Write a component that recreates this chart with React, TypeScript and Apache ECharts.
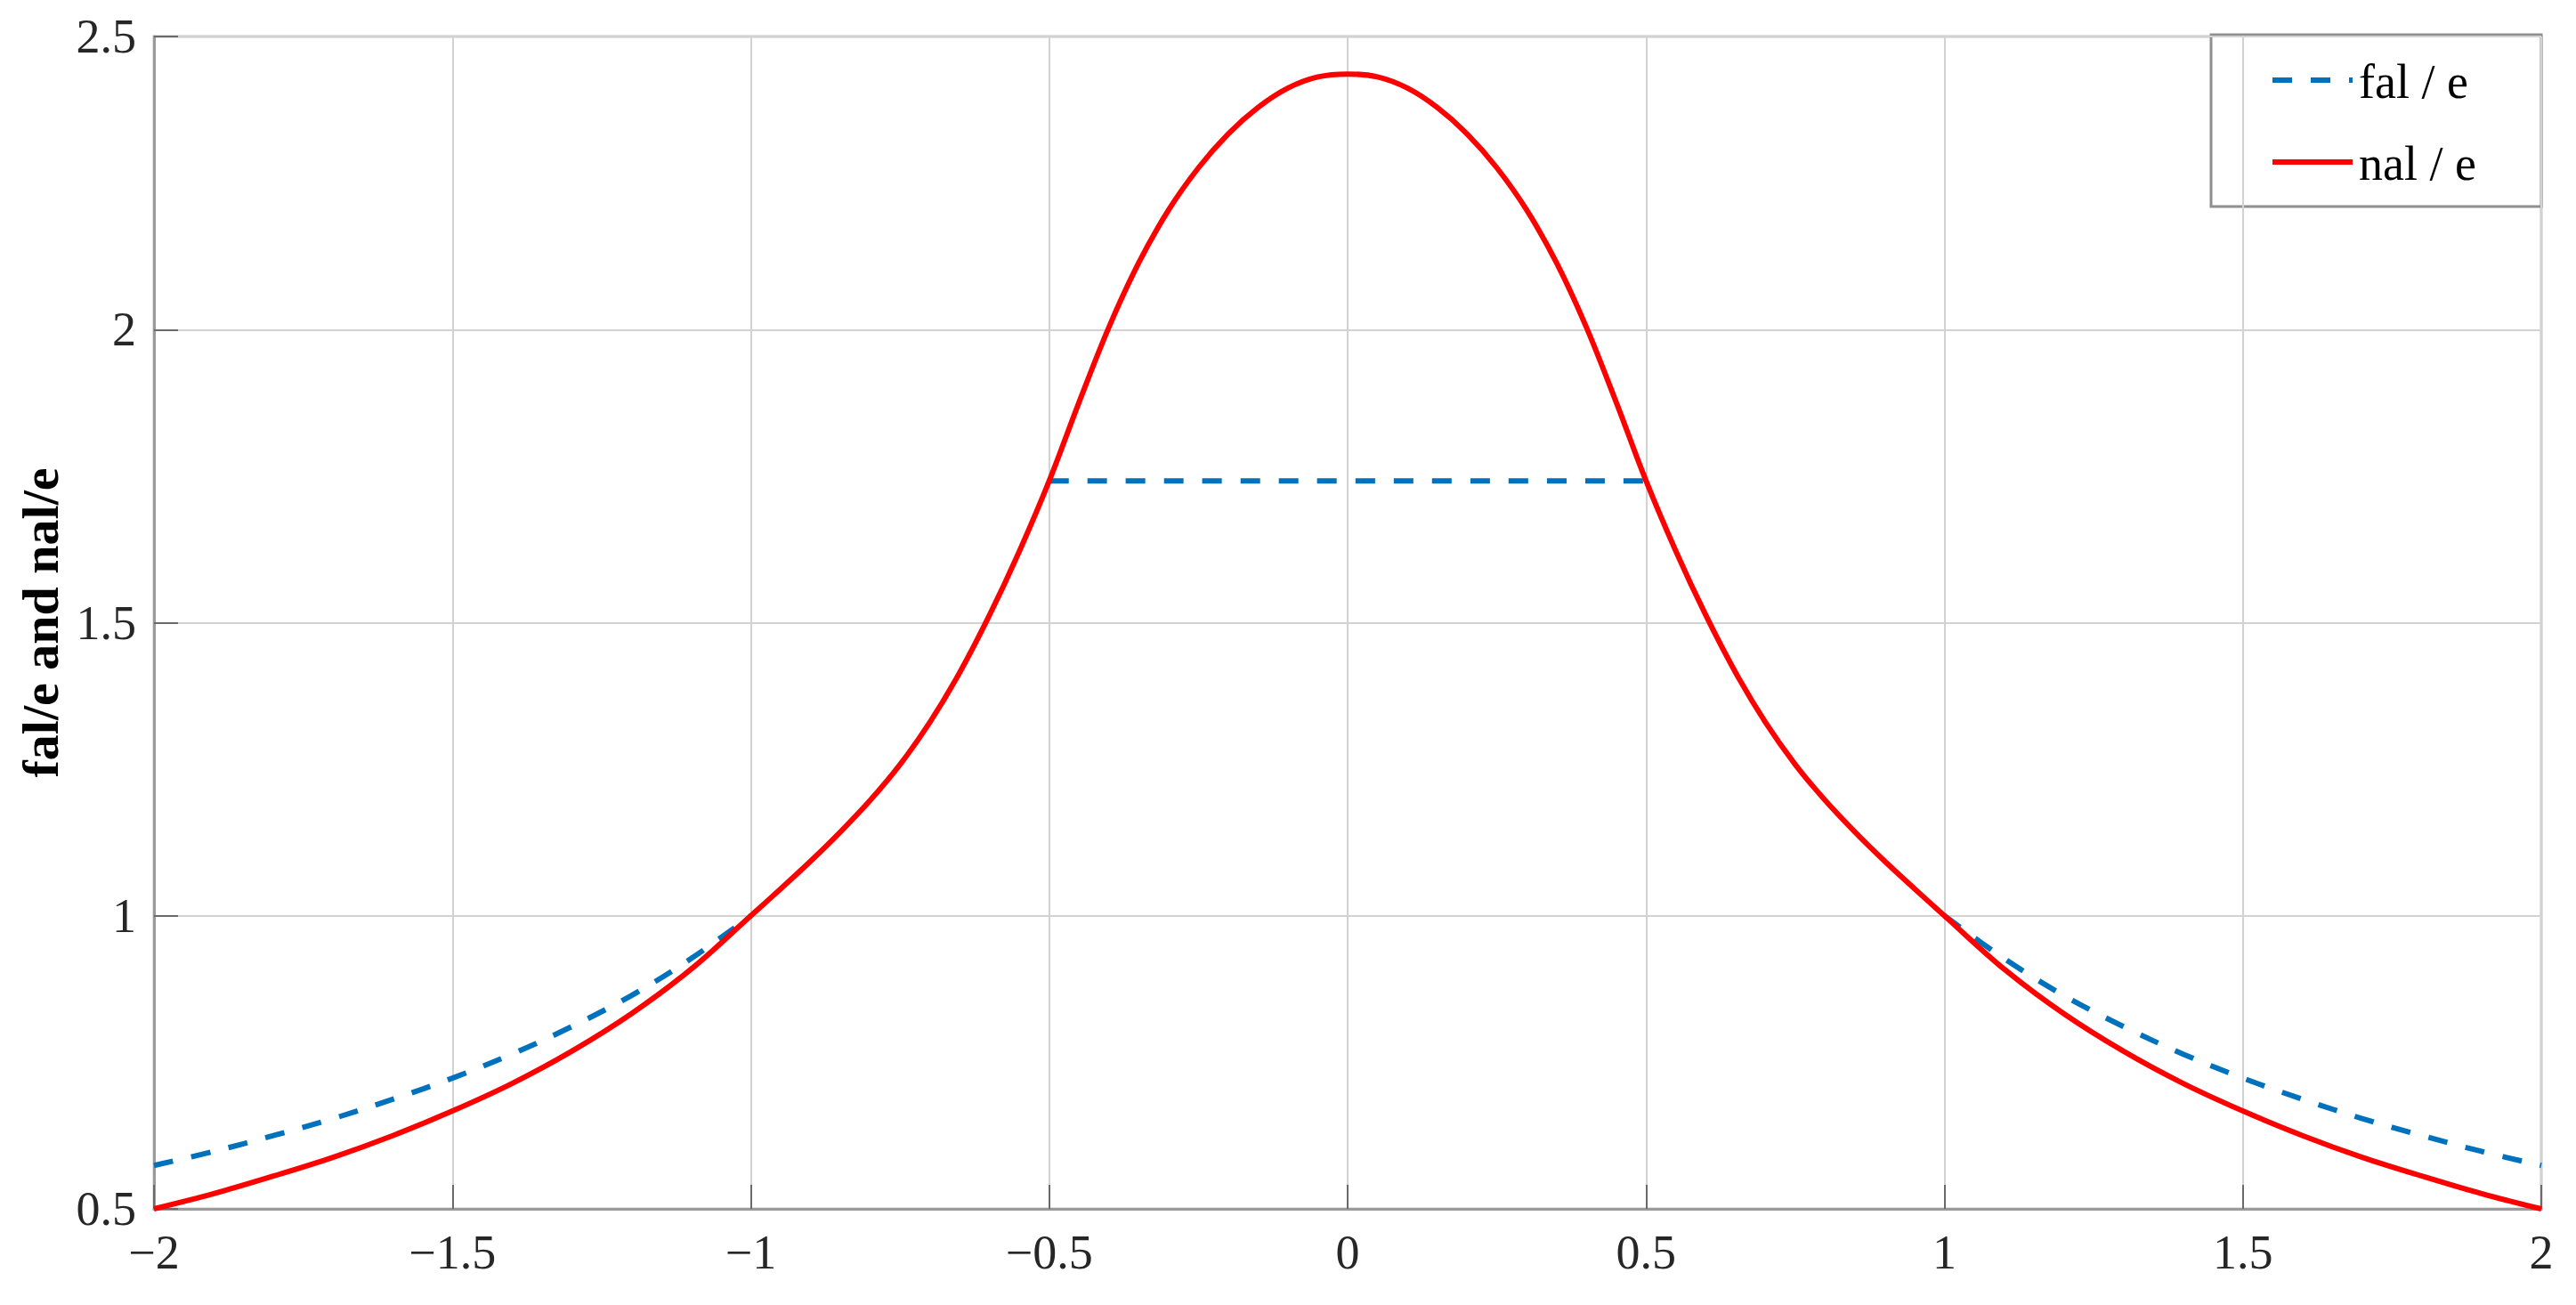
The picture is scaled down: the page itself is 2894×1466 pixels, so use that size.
import React, { useEffect, useRef } from "react";
import * as echarts from "echarts";

// x positions and values
const nalX = [
  -2, -1.9, -1.8, -1.7, -1.6, -1.5, -1.4, -1.3, -1.2, -1.1, -1,
  -0.95, -0.9, -0.85, -0.8, -0.75, -0.7, -0.65, -0.6, -0.55, -0.5,
  -0.45, -0.4, -0.35, -0.3, -0.25, -0.2, -0.15, -0.1, -0.05, 0,
  0.05, 0.1, 0.15, 0.2, 0.25, 0.3, 0.35, 0.4, 0.45, 0.5,
  0.55, 0.6, 0.65, 0.7, 0.75, 0.8, 0.85, 0.9, 0.95, 1,
  1.1, 1.2, 1.3, 1.4, 1.5, 1.6, 1.7, 1.8, 1.9, 2,
];
const nalY = [
  0.5, 0.526, 0.556, 0.588, 0.625, 0.667, 0.714, 0.769, 0.833, 0.909, 1.0,
  1.046, 1.093, 1.143, 1.197, 1.258, 1.33, 1.415, 1.513, 1.622, 1.742,
  1.876, 2.004, 2.114, 2.204, 2.276, 2.334, 2.379, 2.412, 2.431, 2.436,
  2.431, 2.412, 2.379, 2.334, 2.276, 2.204, 2.114, 2.004, 1.876, 1.742,
  1.622, 1.513, 1.415, 1.33, 1.258, 1.197, 1.143, 1.093, 1.046, 1.0,
  0.909, 0.833, 0.769, 0.714, 0.667, 0.625, 0.588, 0.556, 0.526, 0.5,
];

const falX = [
  -2, -1.9, -1.8, -1.7, -1.6, -1.5, -1.4, -1.3, -1.2, -1.1, -1,
  -0.75,
  -0.5, 0.5,
  0.75,
  1, 1.1, 1.2, 1.3, 1.4, 1.5, 1.6, 1.7, 1.8, 1.9, 2,
];
const falY: (number | null)[] = [
  0.574, 0.598, 0.625, 0.654, 0.687, 0.723, 0.764, 0.811, 0.864, 0.927, 1.0,
  null,
  1.742, 1.742,
  null,
  1.0, 0.927, 0.864, 0.811, 0.764, 0.723, 0.687, 0.654, 0.625, 0.598, 0.574,
];

const seriesNames = ["fal / e", "nal / e"];
const yAxisTitle = "fal/e and nal/e";

const FONT = "'Liberation Serif', 'Times New Roman', serif";
const BLUE = "#0072bd";
const RED = "#ff0000";

function fmtTick(v: number): string {
  if (v < 0) return "\u2212" + String(Math.abs(v));
  return String(v);
}

export default function App() {
  const ref = useRef<HTMLDivElement>(null);
  useEffect(() => {
    if (!ref.current) return;
    const chart = echarts.init(ref.current, undefined, { renderer: "svg" });
    const nalData = nalX.map((x, i) => [x, nalY[i]]);
    const falData = falX.map((x, i) => [x, falY[i]]);
    chart.setOption({
      animation: false,
      backgroundColor: "#ffffff",
      grid: {
        left: 173,
        top: 41,
        right: 39,
        bottom: 108,
        show: true,
        borderColor: "#c4c4c4",
        borderWidth: 3,
        backgroundColor: "transparent",
      },
      legend: { show: false },
      xAxis: {
        type: "value",
        min: -2,
        max: 2,
        interval: 0.5,
        axisLine: { show: true, onZero: false, lineStyle: { color: "#9a9a9a", width: 3 } },
        axisTick: { show: true, inside: true, length: 27, lineStyle: { color: "#6a6a6a", width: 2 } },
        axisLabel: {
          formatter: fmtTick,
          fontFamily: FONT,
          fontSize: 54,
          color: "#262626",
          margin: 22,
        },
        splitLine: { show: true, lineStyle: { color: "#d2d2d2", width: 2 } },
      },
      yAxis: {
        type: "value",
        min: 0.5,
        max: 2.5,
        interval: 0.5,
        name: yAxisTitle,
        nameLocation: "middle",
        nameRotate: 90,
        nameGap: 97,
        nameTextStyle: {
          fontFamily: FONT,
          fontSize: 58,
          fontWeight: "bold",
          color: "#000000",
        },
        axisLine: { show: true, onZero: false, lineStyle: { color: "#9a9a9a", width: 3 } },
        axisTick: { show: true, inside: true, length: 27, lineStyle: { color: "#6a6a6a", width: 2 } },
        axisLabel: {
          formatter: fmtTick,
          fontFamily: FONT,
          fontSize: 54,
          color: "#262626",
          margin: 20,
        },
        splitLine: { show: true, lineStyle: { color: "#d2d2d2", width: 2 } },
      },
      graphic: [
        {
          type: "group",
          z: 100,
          children: [
            {
              type: "rect",
              shape: { x: 2484, y: 39, width: 371, height: 193 },
              style: { fill: "#ffffff", stroke: "#8f8f8f", lineWidth: 3 },
            },
            {
              type: "line",
              shape: { x1: 2553, y1: 90, x2: 2643, y2: 90 },
              style: { stroke: BLUE, lineWidth: 6, lineDash: [22, 21] },
            },
            {
              type: "text",
              x: 2650,
              y: 92,
              style: {
                text: seriesNames[0],
                fontFamily: FONT,
                fontSize: 54,
                fill: "#000000",
                verticalAlign: "middle",
                align: "left",
              },
            },
            {
              type: "line",
              shape: { x1: 2553, y1: 182, x2: 2643, y2: 182 },
              style: { stroke: RED, lineWidth: 6 },
            },
            {
              type: "text",
              x: 2650,
              y: 184,
              style: {
                text: seriesNames[1],
                fontFamily: FONT,
                fontSize: 54,
                fill: "#000000",
                verticalAlign: "middle",
                align: "left",
              },
            },
          ],
        },
      ],
      series: [
        {
          name: seriesNames[0],
          type: "line",
          data: falData,
          symbol: "none",
          showSymbol: false,
          connectNulls: false,
          smooth: 0.35,
          lineStyle: { color: BLUE, width: 6, type: [22, 21] },
          itemStyle: { color: BLUE },
          z: 2,
        },
        {
          name: seriesNames[1],
          type: "line",
          data: nalData,
          symbol: "none",
          showSymbol: false,
          smooth: 0.35,
          lineStyle: { color: RED, width: 6, type: "solid" },
          itemStyle: { color: RED },
          z: 3,
        },
      ],
    });
    return () => chart.dispose();
  }, []);
  return (
    <div
      ref={ref}
      style={{ position: "absolute", left: 0, top: 0, width: 2894, height: 1466 }}
    />
  );
}
